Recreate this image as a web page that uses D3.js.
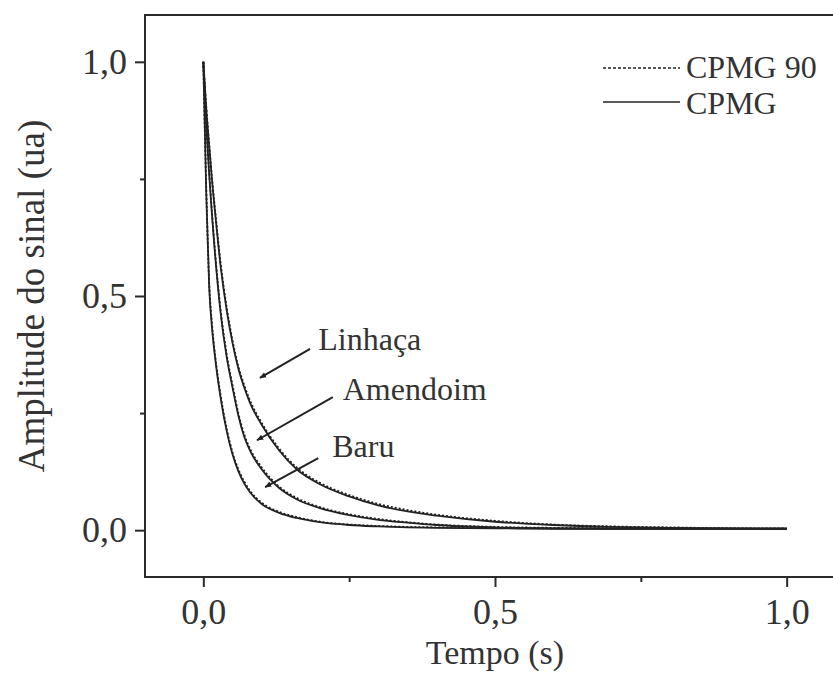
<!DOCTYPE html>
<html>
<head>
<meta charset="utf-8">
<script src="https://cdn.jsdelivr.net/npm/d3@7"></script>
<style>
  body { margin: 0; background: #fff; }
  text { font-family: "Liberation Serif", "Times New Roman", serif; fill: #333; }
</style>
</head>
<body>
<div id="chart"></div>
<script>
// time points (s)
const tempo = [0, 0.005, 0.01, 0.015, 0.02, 0.03, 0.04, 0.05, 0.06, 0.07, 0.08, 0.1, 0.13, 0.16,
               0.2, 0.25, 0.3, 0.35, 0.4, 0.5, 0.6, 0.7, 0.8, 0.9, 1.0];

// CPMG (solid)
const baru     = [1.0, 0.72, 0.52, 0.43, 0.37, 0.28, 0.212, 0.162, 0.126, 0.1, 0.081, 0.056, 0.037, 0.026,
                  0.017, 0.011, 0.008, 0.006, 0.005, 0.004, 0.003, 0.003, 0.003, 0.003, 0.003];
const amendoim = [1.0, 0.865, 0.76, 0.67, 0.59, 0.46, 0.37, 0.305, 0.245, 0.2, 0.17, 0.13, 0.09, 0.066,
                  0.047, 0.032, 0.022, 0.016, 0.011, 0.006, 0.004, 0.003, 0.003, 0.003, 0.003];
const linhaca  = [1.0, 0.90, 0.82, 0.745, 0.68, 0.56, 0.47, 0.40, 0.345, 0.305, 0.272, 0.225, 0.17, 0.13,
                  0.098, 0.072, 0.053, 0.04, 0.031, 0.018, 0.011, 0.007, 0.005, 0.004, 0.003];

// CPMG 90 (dotted)
const baru90     = [1.0, 0.73, 0.53, 0.438, 0.376, 0.285, 0.217, 0.166, 0.13, 0.104, 0.084, 0.059, 0.039, 0.028,
                    0.018, 0.012, 0.009, 0.007, 0.006, 0.005, 0.004, 0.004, 0.003, 0.003, 0.003];
const amendoim90 = [1.0, 0.87, 0.766, 0.676, 0.596, 0.466, 0.376, 0.31, 0.25, 0.205, 0.174, 0.134, 0.093, 0.069,
                    0.049, 0.034, 0.024, 0.017, 0.012, 0.007, 0.005, 0.004, 0.003, 0.003, 0.003];
const linhaca90  = [1.0, 0.905, 0.826, 0.75, 0.686, 0.566, 0.476, 0.405, 0.35, 0.31, 0.277, 0.229, 0.174, 0.134,
                    0.101, 0.075, 0.056, 0.043, 0.033, 0.02, 0.012, 0.008, 0.006, 0.004, 0.003];

const xMajor = [0, 0.5, 1.0];
const xMinor = [0.25, 0.75];
const yMajor = [0, 0.5, 1.0];
const yMinor = [0.25, 0.75];

// annotation labels: [text, textX, textY, fromX, fromY, toX, toY] in data units
const labels = [
  ["Linhaça",  0.197, 0.385, 0.183, 0.387, 0.097, 0.325],
  ["Amendoim", 0.239, 0.278, 0.222, 0.284, 0.092, 0.192],
  ["Baru",     0.221, 0.156, 0.197, 0.154, 0.106, 0.092]
];

const width = 833, height = 681;
const fmt = d3.format(".1f");
const comma = d => fmt(d).replace(".", ",");

const svg = d3.select("#chart").append("svg")
    .attr("width", width)
    .attr("height", height);

const x = d3.scaleLinear().domain([-0.1, 1.1]).range([145, 845]);
const y = d3.scaleLinear().domain([-0.1, 1.1]).range([577, 15]);

// arrow marker
svg.append("defs").append("marker")
    .attr("id", "arrow")
    .attr("viewBox", "0 0 10 10")
    .attr("refX", 9).attr("refY", 5)
    .attr("markerWidth", 7).attr("markerHeight", 7)
    .attr("markerUnits", "userSpaceOnUse")
    .attr("orient", "auto")
    .append("path")
    .attr("d", "M0,1 L10,5 L0,9 Z")
    .attr("fill", "#222");

// frame
svg.append("rect")
    .attr("x", x(-0.1)).attr("y", y(1.1))
    .attr("width", x(1.1) - x(-0.1))
    .attr("height", y(-0.1) - y(1.1))
    .attr("fill", "none")
    .attr("stroke", "#2a2a2a")
    .attr("stroke-width", 2);

// X axis
svg.append("g")
    .attr("transform", `translate(0, ${y(-0.1)})`)
    .call(d3.axisBottom(x).tickValues(xMajor).tickSize(10).tickPadding(11).tickFormat(comma));
svg.append("g")
    .attr("transform", `translate(0, ${y(-0.1)})`)
    .call(d3.axisBottom(x).tickValues(xMinor).tickSize(5).tickFormat(""));

// Y axis
svg.append("g")
    .attr("transform", `translate(${x(-0.1)}, 0)`)
    .call(d3.axisLeft(y).tickValues(yMajor).tickSize(10).tickPadding(8).tickFormat(comma));
svg.append("g")
    .attr("transform", `translate(${x(-0.1)}, 0)`)
    .call(d3.axisLeft(y).tickValues(yMinor).tickSize(5).tickFormat(""));

svg.selectAll(".domain").remove();
svg.selectAll(".tick line").attr("stroke", "#2a2a2a").attr("stroke-width", 2);
svg.selectAll(".tick text").style("font-size", "36px").attr("fill", "#333");

// axis titles
svg.append("text")
    .attr("x", x(0.5)).attr("y", 664)
    .attr("text-anchor", "middle")
    .style("font-size", "34px")
    .text("Tempo (s)");

svg.append("text")
    .attr("transform", `translate(44, ${y(0.5)}) rotate(-90)`)
    .attr("text-anchor", "middle")
    .style("font-size", "37px")
    .text("Amplitude do sinal (ua)");

// curves
const line = d3.line()
    .x(d => x(d[0]))
    .y(d => y(d[1]))
    .curve(d3.curveMonotoneX);

const solid = [baru, amendoim, linhaca];
const dotted = [baru90, amendoim90, linhaca90];

svg.selectAll(".cpmg")
    .data(solid)
    .join("path")
    .attr("class", "cpmg")
    .attr("d", s => line(tempo.map((t, i) => [t, s[i]])))
    .attr("fill", "none")
    .attr("stroke", "#222")
    .attr("stroke-width", 1.8);

svg.selectAll(".cpmg90")
    .data(dotted)
    .join("path")
    .attr("class", "cpmg90")
    .attr("d", s => line(tempo.map((t, i) => [t, s[i]])))
    .attr("fill", "none")
    .attr("stroke", "#222")
    .attr("stroke-width", 1.8)
    .attr("stroke-dasharray", "2,2");

// annotations
const ann = svg.selectAll(".ann")
    .data(labels)
    .join("g")
    .attr("class", "ann");
ann.append("line")
    .attr("x1", d => x(d[3])).attr("y1", d => y(d[4]))
    .attr("x2", d => x(d[5])).attr("y2", d => y(d[6]))
    .attr("stroke", "#222")
    .attr("stroke-width", 2)
    .attr("marker-end", "url(#arrow)");
ann.append("text")
    .attr("x", d => x(d[1])).attr("y", d => y(d[2]))
    .style("font-size", "32px")
    .text(d => d[0]);

// legend
const legend = svg.append("g").attr("transform", "translate(603, 0)");
legend.append("line")
    .attr("x1", 0).attr("x2", 77).attr("y1", 68).attr("y2", 68)
    .attr("stroke", "#222").attr("stroke-width", 1.6)
    .attr("stroke-dasharray", "3,2");
legend.append("text")
    .attr("x", 83).attr("y", 78)
    .style("font-size", "32px")
    .text("CPMG 90");
legend.append("line")
    .attr("x1", 0).attr("x2", 77).attr("y1", 102).attr("y2", 102)
    .attr("stroke", "#222").attr("stroke-width", 1.6);
legend.append("text")
    .attr("x", 83).attr("y", 114)
    .style("font-size", "32px")
    .text("CPMG");
</script>
</body>
</html>
